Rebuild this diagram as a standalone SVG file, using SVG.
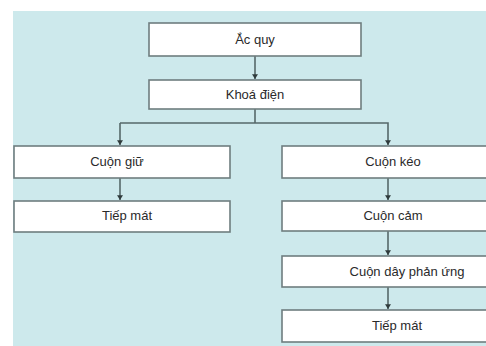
<svg xmlns="http://www.w3.org/2000/svg" width="486" height="346" viewBox="0 0 486 346">
<defs>
<style>
.bg{fill:#cde9ec}
.box{fill:#ffffff;stroke:#6f7d7f;stroke-width:1.6}
.t{font-family:"Liberation Sans",Arial,sans-serif;font-size:13px;fill:#2a2a2a;text-anchor:middle}
.ln{fill:none;stroke:#56686a;stroke-width:1.6}
</style>
<marker id="ah" viewBox="0 0 8 10" refX="8" refY="5" markerWidth="5" markerHeight="6" orient="auto" markerUnits="userSpaceOnUse">
<path d="M0,0 L8,5 L0,10 Z" fill="#2f3b3c"/>
</marker>
</defs>
<rect x="0" y="0" width="486" height="346" fill="#ffffff"/>
<rect class="bg" x="13" y="11" width="473" height="335"/>
<g id="connectors">
<line class="ln" x1="255" y1="56" x2="255" y2="79" marker-end="url(#ah)"/>
<line class="ln" x1="255" y1="109" x2="255" y2="123"/>
<polyline class="ln" points="120,123 388,123 388,145" marker-end="url(#ah)"/>
<path class="ln" d="M120,123 L120,145" marker-end="url(#ah)"/>
<line class="ln" x1="120" y1="178" x2="120" y2="200" marker-end="url(#ah)"/>
<line class="ln" x1="388" y1="178" x2="388" y2="200" marker-end="url(#ah)"/>
<line class="ln" x1="388" y1="231" x2="388" y2="255" marker-end="url(#ah)"/>
<line class="ln" x1="388" y1="287" x2="388" y2="309" marker-end="url(#ah)"/>
</g>
<g id="acquy">
<rect class="box" x="149" y="23" width="212" height="33"/>
<text class="t" x="255" y="44">Ắc quy</text>
</g>
<g id="khoadien">
<rect class="box" x="149" y="80" width="212" height="29"/>
<text class="t" x="255" y="99">Khoá điện</text>
</g>
<g id="cuongiu">
<rect class="box" x="14" y="146" width="216" height="32"/>
<text class="t" x="117" y="166">Cuộn giữ</text>
</g>
<g id="tiepmat1">
<rect class="box" x="14" y="201" width="216" height="31"/>
<text class="t" x="127" y="220">Tiếp mát</text>
</g>
<g id="cuonkeo">
<rect class="box" x="282" y="146" width="210" height="32"/>
<text class="t" x="393" y="166">Cuộn kéo</text>
</g>
<g id="cuoncam">
<rect class="box" x="282" y="201" width="210" height="30"/>
<text class="t" x="393" y="220">Cuộn cảm</text>
</g>
<g id="cuondayphanung">
<rect class="box" x="282" y="256" width="210" height="31"/>
<text class="t" x="407" y="276">Cuộn dây phản ứng</text>
</g>
<g id="tiepmat2">
<rect class="box" x="282" y="310" width="210" height="32"/>
<text class="t" x="397" y="330">Tiếp mát</text>
</g>
</svg>
